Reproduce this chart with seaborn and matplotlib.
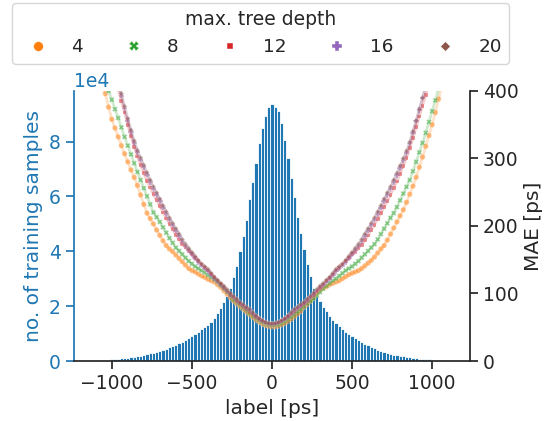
import numpy as np
import pandas as pd
import matplotlib.pyplot as plt
import seaborn as sns

# -------------------------------
# histogram of the training labels (20 ps bins)
# -------------------------------
bin_edges = np.arange(-1150, 1151, 20)
bin_centers = np.arange(-1140, 1141, 20)
sample_counts = [
    140, 190, 250, 310, 380, 450, 530, 620, 720, 830,
    950, 1080, 1220, 1380, 1550, 1750, 1950, 2200, 2450, 2750,
    3050, 3400, 3750, 4100, 4500, 4950, 5400, 5900, 6400, 7000,
    7600, 8300, 9000, 9800, 10700, 11600, 12300, 13200, 14400, 15600,
    17500, 19300, 21500, 23800, 26600, 30500, 34800, 40000, 45500, 51600,
    59000, 65100, 72200, 79500, 84900, 89400, 92800, 93800,  # 0 ps
    92500, 91000, 86700, 80700, 74000, 66700, 59900, 52600, 46500, 40700,
    35500, 30900, 26600, 23600, 22000, 19700, 18100, 16500, 15000, 13800,
    12800, 11600, 10700, 9700, 9000, 8300, 7600, 7000, 6300, 5700,
    5100, 4600, 4100, 3700, 3300, 2950, 2650, 2350, 2100, 1850,
    1650, 1450, 1280, 1120, 980, 860, 750, 650, 560, 480,
    410, 340, 280, 220, 170, 120, 80,
]

# -------------------------------
# MAE per label (-1060 ... 1060 ps) for each max. tree depth
# -------------------------------
mae_labels = np.arange(-1060, 1061, 20)

mae_depth4 = [
    415, 396, 376, 358, 345, 332, 319, 307, 295, 283,
    272, 260, 246, 232, 219, 211, 203, 194, 186, 178,
    171, 166, 162, 157, 152, 147, 142, 137, 134, 132,
    129, 126, 124, 121, 119, 117, 113, 109, 104, 99,
    94, 89, 85, 81, 77, 73, 69, 65, 61, 58,
    55, 53, 51.5, 51,
    51, 52, 54, 56, 59, 62, 66, 70, 74, 80,
    84, 89, 94, 100, 105, 108, 110, 113, 115, 117,
    119, 122, 125, 128, 130, 132, 134, 137, 141, 145,
    149, 154, 160, 166, 171, 179, 188, 197, 206, 215,
    224, 235, 247, 259, 272, 287, 302, 318, 334, 350,
    368, 388, 408,
]
mae_depth8 = [
    428, 414, 400, 387, 373, 360, 346, 332, 319, 306,
    293, 280, 268, 256, 244, 232, 220, 213, 206, 198,
    190, 182, 175, 168, 163, 158, 153, 148, 144, 140,
    137, 134, 131, 127, 124, 121, 117, 112, 107, 102,
    97, 91, 87, 83, 79, 75, 71, 67, 63, 60,
    57, 55, 53.5, 53,
    53, 54, 56, 59, 62, 65, 69, 73, 77, 81,
    85, 89, 93, 97, 102, 107, 111, 115, 119, 122,
    126, 130, 134, 137, 140, 144, 148, 153, 158, 163,
    168, 173, 180, 188, 196, 204, 212, 219, 228, 238,
    248, 258, 268, 281, 295, 309, 323, 338, 354, 370,
    386, 403, 420,
]
mae_depth12 = [
    486, 468, 450, 432, 415, 402, 385, 368, 350, 333,
    317, 303, 290, 278, 267, 257, 247, 238, 229, 220,
    211, 203, 195, 187, 180, 173, 168, 163, 158, 153,
    148, 143, 138, 134, 129, 124, 119, 114, 108, 103,
    98, 94, 89, 85, 81, 77, 73, 69, 65, 62,
    59, 57, 55.5, 55,
    55.5, 57, 59, 62, 65, 69, 73, 77, 81, 85,
    89, 94, 98, 103, 108, 113, 118, 123, 128, 134,
    138, 143, 148, 153, 158, 162, 167, 172, 179, 186,
    194, 202, 210, 219, 228, 237, 246, 256, 266, 277,
    289, 301, 315, 330, 346, 362, 378, 394, 410, 428,
    446, 464, 482,
]
mae_depth16 = [
    512, 492, 472, 452, 432, 412, 393, 374, 356, 339,
    323, 309, 298, 287, 276, 265, 255, 246, 237, 227,
    218, 209, 201, 193, 185, 177, 170, 164, 158, 152,
    146, 141, 137, 133, 127, 121, 117, 112, 108, 103,
    98, 94, 89, 85, 81, 78, 75, 70, 65, 62,
    59, 56, 54.5, 54,
    54.5, 56, 59, 62, 65, 70, 75, 78, 81, 85,
    89, 94, 98, 103, 108, 112, 117, 121, 127, 133,
    137, 141, 146, 152, 158, 164, 170, 177, 185, 193,
    201, 209, 218, 227, 237, 246, 255, 265, 275, 286,
    297, 308, 322, 338, 355, 372, 389, 407, 426, 446,
    466, 486, 506,
]
mae_depth20 = [
    515, 495, 475, 455, 435, 415, 396, 377, 359, 342,
    326, 312, 301, 290, 279, 268, 258, 249, 240, 230,
    221, 212, 204, 196, 188, 180, 173, 167, 161, 155,
    149, 144, 140, 136, 130, 124, 120, 115, 111, 106,
    101, 96, 92, 87, 84, 80, 77, 72, 67, 63,
    60, 57.5, 56, 55.5,
    56, 57.5, 60, 63, 67, 72, 77, 80, 84, 87,
    92, 96, 101, 106, 111, 115, 120, 124, 130, 136,
    140, 144, 149, 155, 161, 167, 173, 180, 188, 196,
    204, 212, 221, 230, 240, 249, 258, 268, 278, 289,
    300, 311, 324, 340, 356, 373, 390, 408, 428, 448,
    468, 488, 508,
]

depths = ["4", "8", "12", "16", "20"]
depth_colors = ["tab:orange", "tab:green", "tab:red", "tab:purple", "tab:brown"]

hist_df = pd.DataFrame({"label": bin_centers, "count": sample_counts})
mae_df = pd.concat([
    pd.DataFrame({"label": mae_labels, "MAE": vals, "max. tree depth": d})
    for d, vals in zip(depths, [mae_depth4, mae_depth8, mae_depth12, mae_depth16, mae_depth20])
])

# -------------------------------
# plot
# -------------------------------
sns.set_theme(style="ticks")
plt.rcParams["font.family"] = ["DejaVu Sans"]

fig = plt.figure(figsize=(5.45, 4.21), dpi=100)
ax = fig.add_axes([0.136, 0.1425, 0.726, 0.6415])

sns.histplot(data=hist_df, x="label", weights="count", bins=list(bin_edges), color="tab:blue",
             alpha=1, edgecolor="white", linewidth=0.6, ax=ax)
ax.set_xlim(-1235, 1235)
ax.set_xticks([-1000, -500, 0, 500, 1000])
ax.ticklabel_format(axis="y", style="sci", scilimits=(0, 0))
ax.set_xlabel("label [ps]", fontsize=14.5)
ax.set_ylabel("no. of training samples", fontsize=14.5, color="tab:blue")
ax.tick_params(axis="y", colors="tab:blue", labelsize=13.5)
ax.tick_params(axis="x", labelsize=13.5)
ax.yaxis.get_offset_text().set_color("tab:blue")
ax.yaxis.get_offset_text().set_fontsize(13.5)
ax.spines["left"].set_color("tab:blue")
ax.spines["top"].set_visible(False)
ax.spines["right"].set_visible(False)

ax2 = ax.twinx()
sns.lineplot(data=mae_df, x="label", y="MAE", hue="max. tree depth", palette=depth_colors,
             linewidth=2, alpha=0.22, legend=False, ax=ax2)
sns.scatterplot(data=mae_df, x="label", y="MAE", hue="max. tree depth", style="max. tree depth",
                palette=depth_colors, s=15, alpha=0.5, edgecolor="white", linewidth=0.3, ax=ax2)
ax2.set_ylim(0, 400)
ax2.set_yticks([0, 100, 200, 300, 400])
ax2.set_ylabel("MAE [ps]", fontsize=14.5)
ax2.tick_params(axis="y", labelsize=13.5)
ax2.spines["top"].set_visible(False)
ax2.spines["left"].set_visible(False)
ax2.spines["bottom"].set_visible(False)

sns.move_legend(ax2, "upper center", bbox_to_anchor=(0.478, 0.993), bbox_transform=fig.transFigure,
                borderaxespad=0, ncol=5, title="max. tree depth", frameon=True, fontsize=13.2,
                title_fontsize=13.5, columnspacing=1.8, markerscale=1.8)
for h in ax2.get_legend().legend_handles:
    h.set_alpha(1)

fig.savefig("out.png", dpi=100)
